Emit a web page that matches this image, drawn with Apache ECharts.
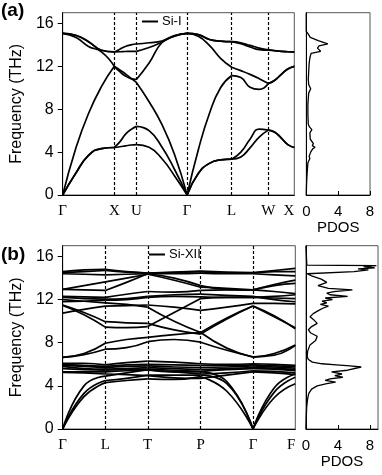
<!DOCTYPE html>
<html>
<head>
<meta charset="utf-8">
<script src="https://cdn.jsdelivr.net/npm/echarts/dist/echarts.min.js"></script>
<style>
html, body { margin: 0; padding: 0; background: #fff; }
#chart { width: 382px; height: 475px; }
</style>
</head>
<body>
<div id="chart"></div>
<script>
// ---- panel (a): Si-I, path G-X-U|K-G-L-W-X ----
const kTicksA = [0, 1.0, 1.428, 2.411, 3.275, 3.985, 4.488];
const labelsA = ['Γ', 'X', 'U', 'Γ', 'L', 'W', 'X'];
// each band: 6 segments x 5 evenly spaced samples (THz)
const siI_TA1 = [
  [0, 2.0, 3.7, 4.33, 4.43],
  [4.43, 4.5, 4.58, 4.66, 4.7],
  [4.7, 4.45, 3.4, 1.8, 0],
  [0, 2.0, 2.95, 3.27, 3.34],
  [3.34, 3.55, 4.4, 5.4, 6.05],
  [6.05, 5.85, 5.3, 4.7, 4.43]
];
const siI_TA2 = [
  [0, 2.0, 3.7, 4.33, 4.43],
  [4.43, 4.95, 5.65, 6.1, 6.4],
  [6.4, 6.0, 4.5, 2.4, 0],
  [0, 2.0, 2.95, 3.27, 3.34],
  [3.34, 4.0, 5.2, 6.15, 6.05],
  [6.05, 5.85, 5.3, 4.7, 4.43]
];
const siI_LA = [
  [0, 4.3, 7.6, 10.1, 12.0],
  [12.0, 11.65, 11.3, 10.9, 10.5],
  [10.5, 8.7, 6.6, 3.8, 0],
  [0, 4.2, 7.6, 10.0, 11.14],
  [11.14, 10.95, 10.05, 9.85, 10.4],
  [10.4, 10.7, 11.25, 11.75, 12.0]
];
const siI_LO = [
  [15.07, 14.7, 13.85, 13.35, 12.0],
  [12.0, 11.5, 11.1, 10.85, 10.77],
  [10.77, 12.3, 14.2, 14.8, 15.07],
  [15.07, 14.8, 13.95, 12.75, 11.92],
  [11.92, 11.6, 11.25, 10.85, 10.4],
  [10.4, 10.7, 11.25, 11.75, 12.0]
];
const siI_TO1 = [
  [15.07, 14.9, 14.3, 13.5, 13.34],
  [13.34, 13.6, 13.85, 14.0, 14.08],
  [14.08, 14.2, 14.35, 14.87, 15.07],
  [15.07, 14.95, 14.5, 14.35, 14.3],
  [14.3, 14.2, 13.95, 13.7, 13.53],
  [13.53, 13.47, 13.4, 13.36, 13.34]
];
const siI_TO2 = [
  [15.07, 14.9, 14.3, 13.5, 13.34],
  [13.34, 13.36, 13.38, 13.4, 13.4],
  [13.4, 13.75, 14.25, 14.83, 15.07],
  [15.07, 14.95, 14.5, 14.35, 14.3],
  [14.3, 14.1, 13.8, 13.55, 13.5],
  [13.5, 13.45, 13.4, 13.36, 13.34]
];
const pdosA_freq = [0, 1, 2, 3, 3.4, 3.6, 4.0, 4.3, 4.45, 4.6, 4.8, 5.2, 5.8, 6.1, 6.35, 6.6, 7.5, 8.5, 9.5, 9.9, 10.3, 10.8, 11.5, 12.2, 12.8, 13.2, 13.4, 13.55, 13.7, 13.9, 14.1, 14.25, 14.4, 14.7, 15.0, 15.25, 17];
const pdosA_val  = [0, 0.03, 0.1, 0.2, 0.45, 0.35, 0.55, 0.8, 1.1, 0.75, 0.9, 0.5, 0.45, 0.7, 0.4, 0.25, 0.2, 0.2, 0.3, 0.55, 0.3, 0.25, 0.3, 0.35, 0.45, 0.6, 1.8, 2.0, 1.4, 1.6, 2.7, 2.9, 1.5, 0.5, 0.25, 0, 0];

// ---- panel (b): Si-XII, path G-L-T-P-G-F ----
const kTicksB = [0, 1.0, 1.995, 3.239, 4.467, 5.46];
const labelsB = ['Γ', 'L', 'T', 'P', 'Γ', 'F'];
// each band: [G, mid, L, mid, T, mid, P, mid, G, mid, F]
const siXII_acoustic = [
  [0, 3.0, 4.3, 4.5, 4.65, 4.6, 4.85, 3.5, 0, 2.9, 4.2],
  [0, 3.3, 4.5, 4.7, 5.0, 5.0, 5.0, 4.2, 0, 3.4, 4.8],
  [0, 4.0, 4.9, 5.2, 5.5, 5.3, 5.3, 4.4, 0, 3.8, 5.1]
];
const siXII_lowOptical = [
  [6.1, 6.1, 5.95, 6.15, 6.3, 6.2, 6.05, 6.0, 6.05, 6.0, 5.9],
  [6.0, 5.9, 5.8, 5.95, 6.0, 5.95, 5.9, 5.9, 5.95, 5.85, 5.8],
  [5.9, 5.8, 5.7, 5.8, 5.85, 5.75, 5.7, 5.75, 5.85, 5.75, 5.65],
  [5.8, 5.6, 5.55, 5.6, 5.7, 5.6, 5.5, 5.6, 5.7, 5.65, 5.5],
  [5.6, 5.5, 5.45, 5.5, 5.55, 5.45, 5.35, 5.5, 5.6, 5.55, 5.4],
  [5.3, 5.3, 5.3, 5.4, 5.45, 5.3, 5.1, 5.2, 5.4, 5.35, 5.2],
  [5.25, 5.2, 5.1, 5.05, 4.95, 4.75, 4.7, 5.0, 5.3, 5.2, 5.05]
];
const siXII_midOptical = [
  [6.65, 7.0, 7.95, 8.3, 8.5, 8.75, 8.95, 7.5, 6.65, 7.0, 7.8],
  [6.65, 6.9, 7.4, 7.55, 8.1, 8.3, 8.05, 7.3, 6.7, 6.85, 7.75],
  [10.75, 11.1, 11.4, 11.45, 11.5, 11.3, 11.0, 11.3, 11.65, 11.65, 11.6],
  [11.5, 10.8, 9.95, 9.85, 9.8, 9.2, 8.8, 10.2, 11.4, 10.4, 9.4],
  [11.45, 10.6, 9.45, 9.4, 9.5, 10.8, 12.1, 12.2, 12.2, 12.15, 12.1],
  [12.0, 11.85, 11.7, 11.55, 11.3, 10.0, 8.95, 10.3, 11.4, 10.5, 9.3]
];
const siXII_highOptical = [
  [11.8, 11.85, 11.95, 12.0, 12.2, 12.3, 12.25, 12.2, 12.2, 12.3, 12.45],
  [12.2, 12.1, 12.05, 12.1, 12.3, 12.45, 12.5, 12.4, 12.3, 12.0, 11.8],
  [12.3, 12.25, 12.2, 12.5, 12.75, 12.7, 12.85, 12.9, 12.9, 12.75, 12.55],
  [12.95, 12.9, 12.85, 13.6, 14.4, 14.0, 13.3, 12.95, 12.9, 13.3, 13.5],
  [12.95, 13.3, 13.65, 14.0, 14.35, 13.8, 13.15, 13.05, 12.9, 13.4, 13.8],
  [14.4, 14.35, 14.3, 14.35, 14.4, 14.4, 14.45, 14.4, 14.4, 14.3, 14.2],
  [14.5, 14.6, 14.7, 14.55, 14.45, 14.5, 14.6, 14.45, 14.45, 14.6, 14.6],
  [14.6, 14.75, 14.8, 14.6, 14.45, 14.55, 14.65, 14.55, 14.5, 14.7, 14.9]
];
const pdosB_freq = [0, 1, 2, 2.8, 3.3, 3.7, 4.0, 4.2, 4.35, 4.5, 4.65, 4.8, 4.95, 5.1, 5.3, 5.45, 5.6, 5.75, 5.85, 5.95, 6.05, 6.2, 6.45, 6.7, 7.2, 7.8, 8.2, 8.6, 8.9, 9.2, 9.5, 9.8, 10.1, 10.4, 10.7, 11.0, 11.2, 11.4, 11.55, 11.7, 11.85, 12.0, 12.15, 12.3, 12.45, 12.6, 12.75, 12.9, 13.05, 13.3, 13.6, 13.9, 14.2, 14.4, 14.5, 14.6, 14.75, 14.85, 14.95, 15.05, 15.15, 15.2, 15.3, 17];
const pdosB_val  = [0, 0.03, 0.08, 0.2, 0.35, 0.7, 1.4, 2.6, 3.7, 2.4, 3.0, 4.6, 3.6, 4.5, 3.2, 5.2, 5.0, 6.9, 5.5, 3.8, 2.0, 0.8, 0.3, 0.15, 0.2, 0.5, 1.2, 1.4, 0.6, 0.3, 0.7, 1.4, 1.0, 0.5, 0.9, 1.6, 2.1, 2.8, 1.8, 2.6, 2.0, 3.3, 2.4, 5.2, 3.0, 2.6, 3.5, 5.8, 2.8, 1.5, 2.6, 1.9, 0.7, 0.15, 0.3, 6.0, 7.8, 6.5, 8.6, 7.2, 8.8, 0.1, 0, 0];

const SANS = 'Liberation Sans';
const SERIF = 'Liberation Serif';

// split every band into per-segment line series so kinks at the
// high-symmetry points stay sharp
function bandSeries(segments, ticks, name, axisIdx) {
  return segments.map(function (vals, s) {
    const x0 = ticks[s], x1 = ticks[s + 1];
    return {
      type: 'line', name: name,
      xAxisIndex: axisIdx, yAxisIndex: axisIdx,
      smooth: 0.5, showSymbol: false, silent: true,
      lineStyle: { color: '#000', width: 1.7 },
      itemStyle: { color: '#000' },
      data: vals.map(function (v, i) { return [x0 + (x1 - x0) * i / (vals.length - 1), v]; })
    };
  });
}
function segmentsFromPoints(vals) {
  const segs = [];
  for (let s = 0; s * 2 + 2 < vals.length; s++) segs.push(vals.slice(s * 2, s * 2 + 3));
  return segs;
}
function dashLines(ticks, axisIdx) {
  return {
    type: 'line', xAxisIndex: axisIdx, yAxisIndex: axisIdx, data: [], silent: true,
    markLine: {
      silent: true, symbol: 'none', label: { show: false }, animation: false,
      lineStyle: { type: [3, 2], color: '#000', width: 1.2 },
      data: ticks.slice(1, -1).map(function (k) { return { xAxis: k }; })
    }
  };
}
function bandXAxis(grid, ticks, labels) {
  return {
    type: 'value', gridIndex: grid, min: 0, max: ticks[ticks.length - 1],
    axisLine: { lineStyle: { color: '#000', width: 1 } },
    axisTick: { show: false }, splitLine: { show: false },
    axisLabel: {
      customValues: ticks, margin: 9, color: '#000', fontSize: 15, fontFamily: SERIF,
      alignMaxLabel: 'right',
      formatter: function (v) {
        const i = ticks.findIndex(function (k) { return Math.abs(k - v) < 1e-6; });
        return i >= 0 ? labels[i] : '';
      }
    }
  };
}
function pdosXAxis(grid, max, gap) {
  return {
    type: 'value', gridIndex: grid, min: 0, max: max, interval: 4,
    axisLine: { lineStyle: { color: '#000' } },
    axisTick: { inside: true, length: 4, lineStyle: { color: '#000' } },
    splitLine: { show: false },
    axisLabel: { margin: 9, color: '#000', fontSize: 15, fontFamily: SANS, showMaxLabel: max % 4 === 0 },
    name: 'PDOS', nameLocation: 'middle', nameGap: gap,
    nameTextStyle: { color: '#000', fontSize: 15, fontFamily: SANS }
  };
}
function freqYAxis(grid) {
  return {
    type: 'value', gridIndex: grid, min: 0, max: 17, interval: 4,
    axisLine: { show: true, lineStyle: { color: '#000' } },
    axisTick: { show: true, length: 5, lineStyle: { color: '#000' } },
    splitLine: { show: false },
    axisLabel: { margin: 9, color: '#000', fontSize: 16, fontFamily: SANS },
    name: 'Frequency (THz)', nameLocation: 'middle', nameGap: 36, nameRotate: 90,
    nameTextStyle: { color: '#000', fontSize: 16, fontFamily: SANS }
  };
}
function pdosYAxis(grid) {
  return {
    type: 'value', gridIndex: grid, min: 0, max: 17,
    axisLine: { show: true, lineStyle: { color: '#000' } },
    axisTick: { show: false }, axisLabel: { show: false }, splitLine: { show: false }
  };
}
function pdosSeries(freq, val, axisIdx) {
  return {
    type: 'line', xAxisIndex: axisIdx, yAxisIndex: axisIdx, showSymbol: false, silent: true,
    lineStyle: { color: '#000', width: 1.3 },
    data: freq.map(function (f, i) { return [val[i], f]; })
  };
}

let series = [];
[siI_TA1, siI_TA2, siI_LA, siI_LO, siI_TO1, siI_TO2].forEach(function (b) {
  series = series.concat(bandSeries(b, kTicksA, 'Si-I', 0));
});
series.push(dashLines(kTicksA, 0));
series.push(pdosSeries(pdosA_freq, pdosA_val, 1));
[].concat(siXII_acoustic, siXII_lowOptical, siXII_midOptical, siXII_highOptical).forEach(function (b) {
  series = series.concat(bandSeries(segmentsFromPoints(b), kTicksB, 'Si-XII', 2));
});
series.push(dashLines(kTicksB, 2));
series.push(pdosSeries(pdosB_freq, pdosB_val, 3));

const chart = echarts.init(document.getElementById('chart'), null, { renderer: 'canvas' });
chart.setOption({
  animation: false,
  backgroundColor: '#fff',
  title: [
    { text: '(a)', left: 1, top: 1, padding: 0, textStyle: { fontSize: 19, fontWeight: 'bold', color: '#000', fontFamily: SANS } },
    { text: '(b)', left: 1, top: 245, padding: 0, textStyle: { fontSize: 19, fontWeight: 'bold', color: '#000', fontFamily: SANS } }
  ],
  legend: [
    { data: ['Si-I'], left: 142, top: 15, padding: 0, icon: 'rect', itemWidth: 16, itemHeight: 2, itemGap: 4,
      textStyle: { fontSize: 13, color: '#000', fontFamily: SANS, padding: [0, 0, 0, -1] } },
    { data: ['Si-XII'], left: 149, top: 248, padding: 0, icon: 'rect', itemWidth: 16, itemHeight: 2, itemGap: 4,
      textStyle: { fontSize: 13, color: '#000', fontFamily: SANS, padding: [0, 0, 0, -1] } }
  ],
  grid: [
    { left: 62.7, top: 12.7, width: 231.6, height: 182.3, show: true, borderColor: '#555', borderWidth: 1 },
    { left: 306.3, top: 12.7, width: 63.7, height: 182.3, show: true, borderColor: '#555', borderWidth: 1 },
    { left: 62.7, top: 245.7, width: 232.6, height: 183.3, show: true, borderColor: '#555', borderWidth: 1 },
    { left: 306, top: 245.7, width: 72, height: 183.3, show: true, borderColor: '#555', borderWidth: 1 }
  ],
  xAxis: [
    bandXAxis(0, kTicksA, labelsA),
    pdosXAxis(1, 8, 24),
    bandXAxis(2, kTicksB, labelsB),
    pdosXAxis(3, 9, 24)
  ],
  yAxis: [freqYAxis(0), pdosYAxis(1), freqYAxis(2), pdosYAxis(3)],
  series: series
});
</script>
</body>
</html>
